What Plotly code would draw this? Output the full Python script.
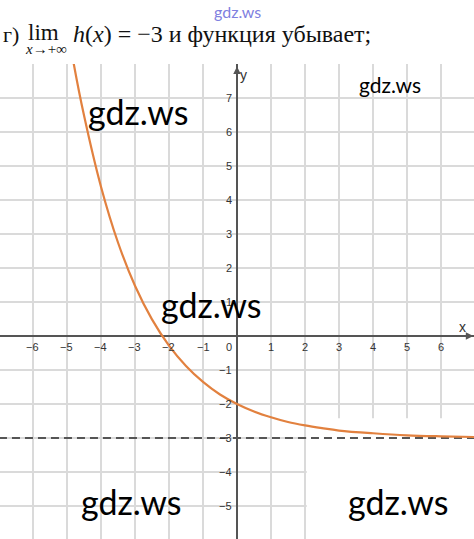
import plotly.graph_objects as go

# ---- data ----
curve_x = [-4.9, -4.8, -4.5, -4.0, -3.5, -3.0, -2.5, -2.0, -1.5, -1.0, -0.5, 0.0,
           0.5, 1.0, 1.5, 2.0, 2.5, 3.0, 4.0, 5.0, 6.0, 7.0]
curve_y = [8.6, 8.0, 6.49, 4.39, 2.75, 1.48, 0.49, -0.28, -0.88, -1.35, -1.72, -2.0,
           -2.22, -2.39, -2.53, -2.63, -2.71, -2.78, -2.86, -2.92, -2.95, -2.97]
asym_x = [-7.0, 7.0]
asym_y = [-3.0, -3.0]
x_ticks = [-6, -5, -4, -3, -2, -1, 1, 2, 3, 4, 5, 6]
y_ticks = [7, 6, 5, 4, 3, 2, 1, -1, -2, -3, -4, -5]

W, H = 474, 539
TOP = 64
X_RANGE = [-6.97, 6.97]
Y_RANGE = [-5.97, 8.0]


def px(xp):
    return xp / W


def py(yp):
    return (H - yp) / (H - TOP)


fig = go.Figure()

fig.add_trace(go.Scatter(x=asym_x, y=asym_y, mode="lines",
                         line=dict(color="#555555", width=2, dash="8px,5px"),
                         hoverinfo="skip"))
fig.add_trace(go.Scatter(x=curve_x, y=curve_y, mode="lines",
                         line=dict(color="#e2813f", width=2.2, shape="spline"),
                         hoverinfo="skip"))

# white patch over the grid in the lower right (as in the picture)
fig.add_shape(type="rect", xref="x", yref="y", x0=2.05, x1=7.2, y0=-6.2, y1=-2.42,
              fillcolor="white", line=dict(width=0), layer="between")

ann = []
tick_font = dict(family="Liberation Sans, Arial", size=11, color="#333333")
for t in x_ticks:
    ann.append(dict(x=t, y=-0.33, xref="x", yref="y", text=f"{t}".replace("-", "−"),
                    showarrow=False, font=tick_font))
ann.append(dict(x=-0.25, y=-0.33, xref="x", yref="y", text="0", showarrow=False, font=tick_font))
for t in y_ticks:
    ann.append(dict(x=-0.1, y=t, xref="x", yref="y", text=f"{t}".replace("-", "−"),
                    xanchor="right", showarrow=False, font=tick_font))

# axis arrows and names
ann.append(dict(x=6.95, y=0, ax=6.4, ay=0, xref="x", yref="y", axref="x", ayref="y",
                text="", showarrow=True, arrowhead=2, arrowsize=1, arrowwidth=1.5,
                arrowcolor="#555555"))
ann.append(dict(x=0, y=7.93, ax=0, ay=7.4, xref="x", yref="y", axref="x", ayref="y",
                text="", showarrow=True, arrowhead=2, arrowsize=1, arrowwidth=1.5,
                arrowcolor="#555555"))
ann.append(dict(x=6.63, y=0.27, xref="x", yref="y", text="x", showarrow=False,
                font=dict(family="Liberation Sans, Arial", size=14, color="#333333")))
ann.append(dict(x=0.18, y=7.67, xref="x", yref="y", text="y", showarrow=False,
                font=dict(family="Liberation Sans, Arial", size=14, color="#333333")))


def paper_text(cx, cy, text, size, color, family, xanchor="center"):
    return dict(x=px(cx), y=py(cy), xref="paper", yref="paper", xanchor=xanchor,
                yanchor="middle", text=text, showarrow=False,
                font=dict(family=family, size=size, color=color))


# heading
serif = "Liberation Serif, DejaVu Serif, serif"
ann.append(paper_text(1, 34, "г)", 22, "#111111", serif, "left"))
ann.append(paper_text(43, 32, "lim", 23, "#111111", serif))
ann.append(paper_text(46, 49, "<i>x</i>→+∞", 15, "#111111", serif))
ann.append(paper_text(71, 34, "<i>h</i>(<i>x</i>) = −3 и функция убывает;", 24, "#111111",
                      serif, "left"))

# watermarks
sans = "Lato, Open Sans, sans-serif"
ann.append(paper_text(237, 12, "gdz.ws", 16, "#8080e0", sans))
wm = [(138, 111, 34), (390, 84, 21), (211, 304, 34), (131, 501, 34), (398, 501, 34)]
for (cx, cy, s) in wm:
    ann.append(paper_text(cx, cy, "gdz.ws", s, "#000000", sans))

fig.update_layout(
    width=W, height=H,
    margin=dict(l=0, r=0, t=TOP, b=0),
    paper_bgcolor="white", plot_bgcolor="white",
    showlegend=False,
    annotations=ann,
    xaxis=dict(range=X_RANGE, dtick=1, tick0=0, showgrid=True, gridcolor="#dadada",
               gridwidth=1.5, showticklabels=False, ticks="", zeroline=True,
               zerolinecolor="#555555", zerolinewidth=1.5, showline=False, fixedrange=True),
    yaxis=dict(range=Y_RANGE, dtick=1, tick0=0, showgrid=True, gridcolor="#dadada",
               gridwidth=1.5, showticklabels=False, ticks="", zeroline=True,
               zerolinecolor="#555555", zerolinewidth=1.5, showline=False, fixedrange=True),
)

fig.write_html("out.html", config={"displayModeBar": False},
               post_script="document.body.style.margin='0';document.body.style.overflow='hidden';")
